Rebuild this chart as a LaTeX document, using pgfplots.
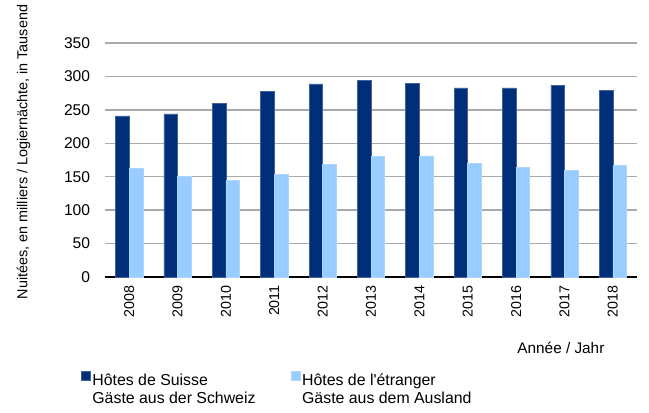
\documentclass[border=0pt]{standalone}
\usepackage{fontspec}
\setmainfont{Liberation Sans}
\usepackage{pgfplots}
\pgfplotsset{compat=1.18}
\definecolor{darkb}{RGB}{0,46,120}
\definecolor{lightb}{RGB}{153,204,255}
\definecolor{gridc}{RGB}{170,170,170}
\begin{document}
\begin{tikzpicture}
\begin{axis}[
  name=ax,
  scale only axis,
  width=399pt, height=175.5pt,
  ybar=0pt, bar width=10.2pt,
  xmin=-0.5, xmax=10.5,
  ymin=0, ymax=350,
  ytick={0,50,...,350},
  xtick={0,...,10},
  xticklabels={2008,2009,2010,2011,2012,2013,2014,2015,2016,2017,2018},
  major tick length=0pt,
  /pgf/number format/assume math mode=true,
  axis x line*=bottom, axis y line*=left,
  x axis line style={black, line width=0.8pt, -},
  y axis line style={draw=none},
  ymajorgrids, grid style={gridc, line width=1.1pt},
  yticklabel style={font=\fontsize{11.7}{14}\selectfont, inner sep=0pt},
  yticklabel shift=11pt,
  xticklabel style={font=\fontsize{10.7}{13}\selectfont, rotate=90, anchor=east, inner sep=0pt},
  xticklabel shift=6pt,
  ylabel={Nuitées, en milliers / Logiernächte, in Tausend},
  ylabel style={font=\fontsize{10.8}{13}\selectfont, at={(axis description cs:-0.153,0.534)}, anchor=center, rotate=0},
  xlabel={Année / Jahr},
  xlabel style={font=\fontsize{11.5}{14}\selectfont, at={(axis description cs:0.857,-0.303)}, anchor=center},
  legend columns=2,
  legend image code/.code={\fill[#1] (0pt,0pt) rectangle (6.75pt,6.75pt);},
  legend style={draw=none, fill=none, inner sep=0pt, at={(-0.0451,-0.40)}, anchor=north west,
    nodes={inner sep=0pt, font=\fontsize{11.9}{13.7}\selectfont},
    /tikz/every odd column/.append style={column sep=1.2pt},
    /tikz/every even column/.append style={column sep=26.6pt}},
]
\addplot[fill=darkb, draw=darkb!75!white, line width=0.4pt] coordinates {
(0,241) (1,244) (2,260) (3,278) (4,289) (5,294) (6,290) (7,283) (8,283) (9,287) (10,279)};
\addlegendentry{\begin{tabular}[t]{@{}l@{}}Hôtes de Suisse\\Gäste aus der Schweiz\end{tabular}}
\addplot[fill=lightb, draw=lightb!80!white, line width=0.4pt] coordinates {
(0,163) (1,150) (2,144) (3,153) (4,169) (5,180) (6,181) (7,169.5) (8,163.5) (9,160) (10,166.5)};
\addlegendentry{\begin{tabular}[t]{@{}l@{}}Hôtes de l\textquotesingle étranger\\Gäste aus dem Ausland\end{tabular}}
\end{axis}
\path (ax.south west) ++(-78.75pt,-101.25pt) coordinate (bl);
\path (ax.south west) ++(399pt,175.5pt) ++(9pt,32.25pt) coordinate (tr);
\path (bl) rectangle (tr);
\end{tikzpicture}
\end{document}
